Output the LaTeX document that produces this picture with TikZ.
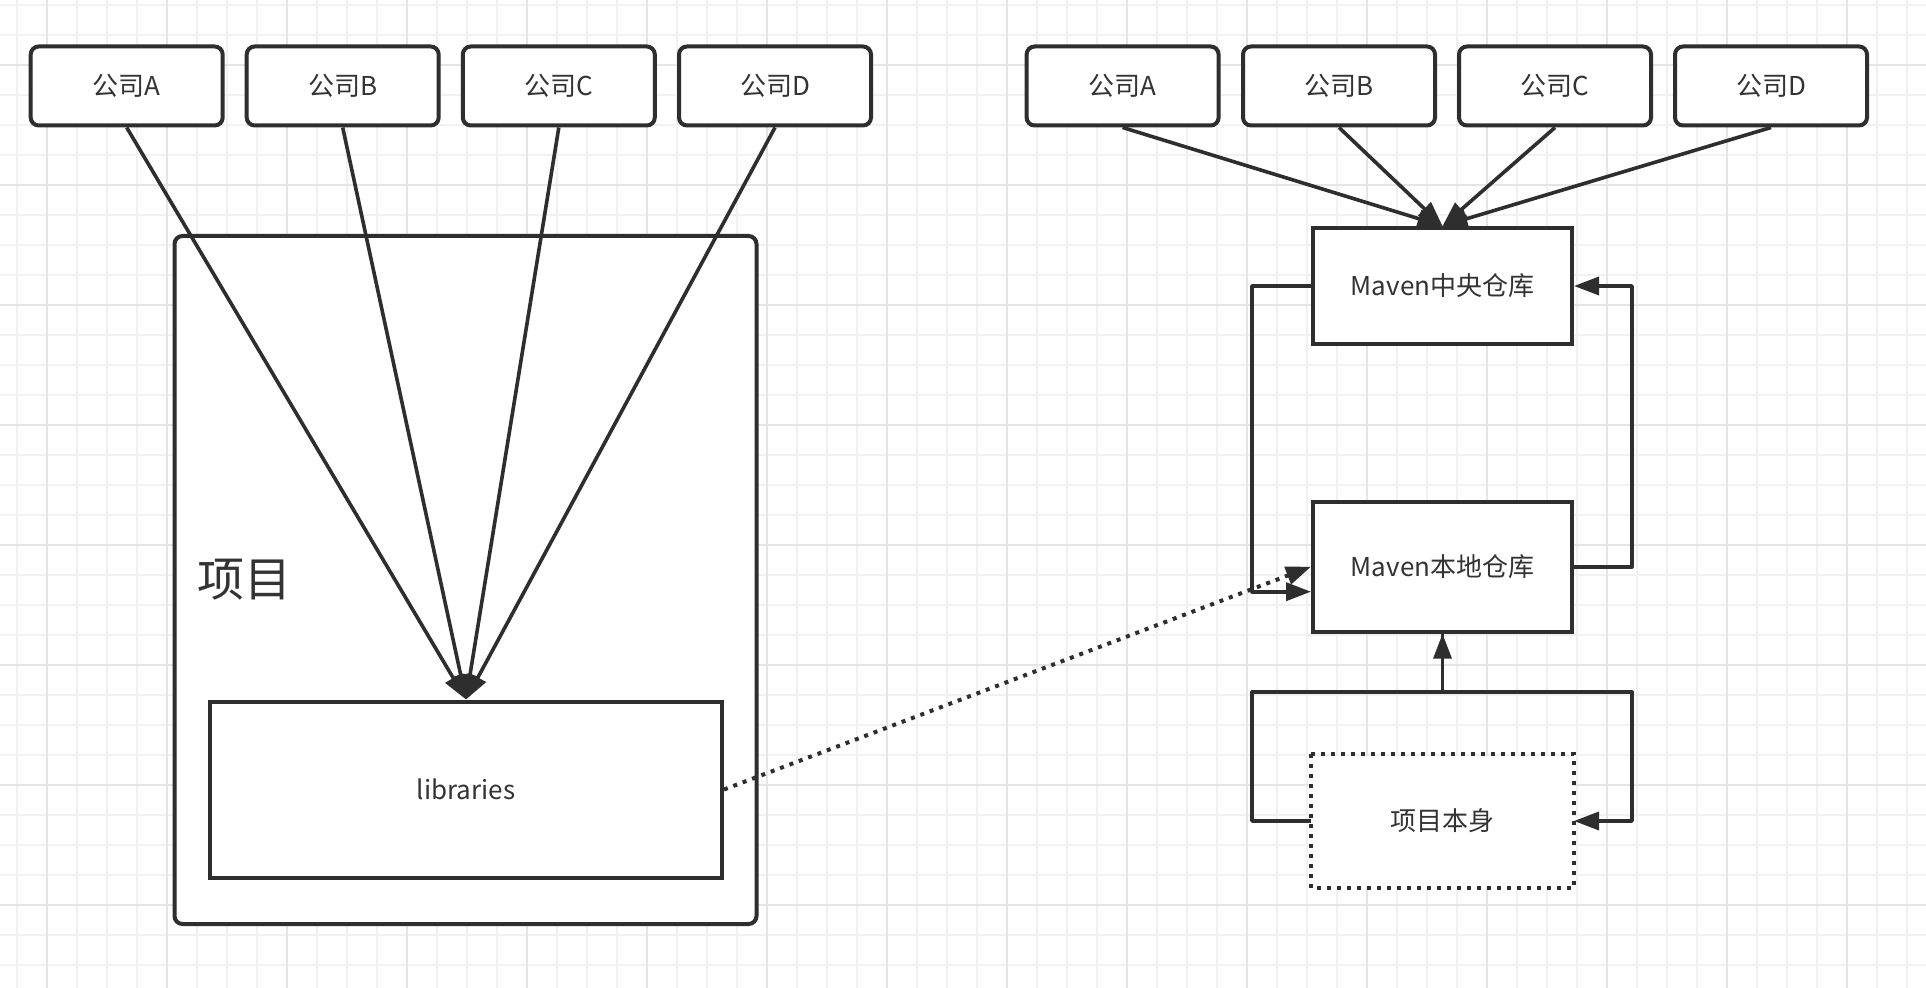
\documentclass[tikz,border=0pt]{standalone}
\usepackage{fontspec}
\setmainfont{Noto Sans CJK SC}
\usetikzlibrary{arrows.meta,calc}
\definecolor{ink}{HTML}{2E2E2E}
\definecolor{txt}{HTML}{333333}
\definecolor{gridminor}{HTML}{F1F1F1}
\definecolor{gridmajor}{HTML}{E5E5E5}
\begin{document}
\begin{tikzpicture}[x=0.5pt,y=-0.5pt,
  box/.style={draw=ink, line width=2pt, fill=white, text=txt,
    font=\fontsize{13}{15}\selectfont, inner sep=0pt,
    minimum width=129.5pt, minimum height=65pt},
  company/.style={box, rounded corners=4pt, minimum width=96pt, minimum height=39.5pt},
  edge/.style={draw=ink, line width=1.8pt, line join=round,
    -{Triangle[length=12.5pt,width=9pt]}},
  dotline/.style={edge, line width=2pt, dash pattern=on 2pt off 3pt},
  gminor/.style={draw=gridminor, line width=1pt},
  gmajor/.style={draw=gridmajor, line width=1pt},
]
\fill[white] (0,0) rectangle (1926,988);
\useasboundingbox (0,0) rectangle (1926,988);
% grid
\foreach \i in {0,...,63}{\draw[gminor] ({16.7+30*\i},0) -- ({16.7+30*\i},988);}
\foreach \i in {0,...,32}{\draw[gminor] (0,{5+30*\i}) -- (1926,{5+30*\i});}
\foreach \i in {0,...,15}{\draw[gmajor] ({46.7+120*\i},0) -- ({46.7+120*\i},988);}
\foreach \i in {0,...,7}{\draw[gmajor] (0,{65+120*\i}) -- (1926,{65+120*\i});}

% left part
\node[box, rounded corners=4pt, minimum width=291pt, minimum height=344pt] (proj) at (465.5,580) {};
\node[text=txt, inner sep=0pt, font=\fontsize{23.5}{28}\selectfont] (projlabel) at (244,580) {项目};
\node[box, minimum width=256pt, minimum height=88pt] (lib) at (466,789.5) {libraries};

\node[company] (la) at (126.7,86) {公司A};
\node[company] (lb) at (342.7,86) {公司B};
\node[company] (lc) at (558.8,86) {公司C};
\node[company] (ld) at (775,86) {公司D};

\foreach \c in {la,lb,lc,ld}{\draw[edge] (\c.south) -- (lib.north);}

% right part
\node[company] (ra) at (1122.6,86) {公司A};
\node[company] (rb) at (1339,86) {公司B};
\node[company] (rc) at (1555,86) {公司C};
\node[company] (rd) at (1771,86) {公司D};

\node[box, minimum height=58pt] (zy) at (1442.5,286) {Maven中央仓库};
\node[box] (bd) at (1442.5,566.7) {Maven本地仓库};
\node[box, draw=none] (self) at (1442.5,821) {项目本身};
\draw[ink, line width=2pt, dash pattern=on 2pt off 3pt]
  (self.north west) rectangle (self.south east);

\foreach \c in {ra,rb,rc,rd}{\draw[edge] (\c.south) -- (zy.north);}

\coordinate (lt) at ($(zy.west)+(-59,0)$);
\coordinate (lb2) at ($(bd.west)+(0,25)$);
\draw[edge] (zy.west) -- (lt) |- (lb2);

\coordinate (rt) at ($(bd.east)+(58,0)$);
\draw[edge] (bd.east) -- (rt) |- (zy.east);

\coordinate (jn) at ($(bd.south)+(0,58.5)$);
\coordinate (sl) at ($(self.west)+(-59,0)$);
\coordinate (sr) at ($(self.east)+(58,0)$);
\draw[edge] (self.west) -- (sl) |- (jn) -- (bd.south);
\draw[edge] (bd.south) -- (jn) -| (sr) -- (self.east);

\draw[dotline] (lib.east) -- (bd.west);
\end{tikzpicture}
\end{document}
